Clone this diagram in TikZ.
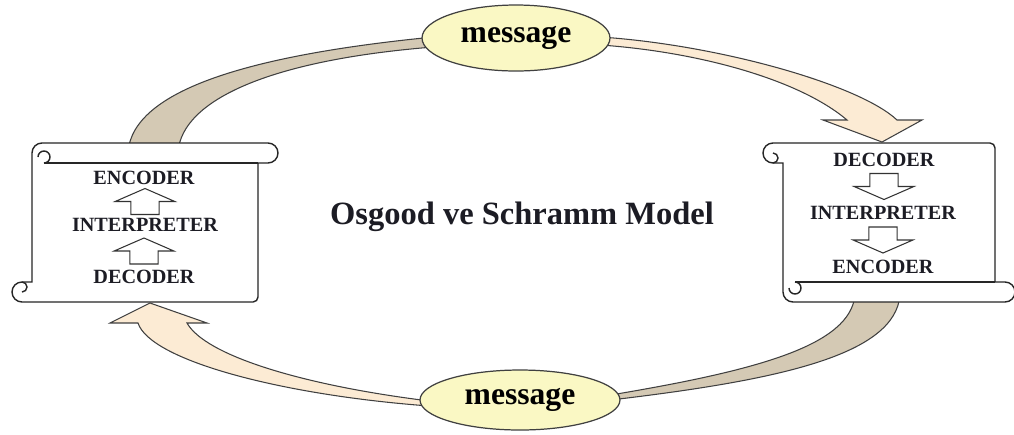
\documentclass[tikz,border=0pt]{standalone}
\usepackage{fontspec}
\setmainfont{Liberation Serif}
\usetikzlibrary{calc,shapes.geometric,backgrounds}

\definecolor{bandtan}{HTML}{D4C9B4}
\definecolor{bandpeach}{HTML}{FCEBD4}
\definecolor{msgfill}{HTML}{FAF8C4}
\definecolor{inkdark}{HTML}{1C1C24}

\tikzset{
    scrollline/.style={draw=black!85, line width=0.8pt, fill=white},
    curlline/.style={draw=black!85, line width=0.8pt},
    band/.style={draw=black!75, line width=0.6pt},
    msg/.style={ellipse, draw=black!75, line width=0.7pt, fill=msgfill,
        inner sep=0pt, font=\fontsize{18}{20}\selectfont\bfseries},
    stage/.style={font=\fontsize{11.5}{13}\selectfont\bfseries, text=inkdark,
        inner sep=1pt},
    hollowarrow/.style={draw=black!80, line width=0.6pt, fill=white},
}

%% scroll: #1 left, #2 top, #3 right, #4 bottom of the body
\newcommand{\scrollbox}[4]{%
    \draw[scrollline] (#1,#2+10) arc[start angle=180,end angle=270,radius=10]
        -- (#3+10,#2) arc[start angle=-90,end angle=90,radius=10]
        -- (#3,#2+20) -- (#3,#4-5) arc[start angle=0,end angle=90,radius=5]
        -- (#1-10,#4) arc[start angle=90,end angle=270,radius=10]
        -- (#1,#4-20) -- cycle;
    \draw[curlline] (#1+12,#2+20) -- (#3,#2+20);
    \draw[curlline] (#1+12,#2+20) arc[start angle=90,end angle=-180,radius=6];
    \draw[curlline] (#1-10,#4-20) arc[start angle=-90,end angle=90,radius=5];
}

%% hollow block arrow between two stage nodes
\newcommand{\blockarrow}[2]{%
    \draw[hollowarrow] let \p1=(#1), \p2=(#2), \n1={((\y2>\y1)*2-1)} in
        ({\x1-8pt},{(\y1+\y2)/2-(\n1)*7.4pt}) -- ({\x1-8pt},{(\y1+\y2)/2})
        -- ({\x1-17pt},{(\y1+\y2)/2}) -- (\x1,{(\y1+\y2)/2+(\n1)*7.4pt})
        -- ({\x1+17pt},{(\y1+\y2)/2}) -- ({\x1+8pt},{(\y1+\y2)/2})
        -- ({\x1+8pt},{(\y1+\y2)/2-(\n1)*7.4pt}) -- cycle;
}

\begin{document}
\begin{tikzpicture}[x=0.02cm,y=-0.02cm]
    \useasboundingbox (0,0) rectangle (1014,434);
    \begin{pgfonlayer}{background}
        \fill[white] (0,0) rectangle (1014,434);
    \end{pgfonlayer}

    %% Messages
    \node[msg, minimum width=3.76cm, minimum height=1.32cm] (msgtop) at (516,38) {message};
    \node[msg, minimum width=4.0cm, minimum height=1.2cm] (msgbot) at (520,400) {message};

    %% Ports on the scrolls
    \coordinate (rsIn) at (882,142);
    \coordinate (lsIn) at (150,303);

    %% Bands
    \begin{pgfonlayer}{background}
        \draw[band, fill=bandtan] (128,152) .. controls (133,90) and (250,55)
            .. ($(msgtop.west)+(12,-1)$) -- ($(msgtop.west)+(12,9)$)
            .. controls (270,60) and (182,100) .. (178,152) -- cycle;
        \draw[band, fill=bandpeach] ($(msgtop.east)+(-10,-1)$)
            .. controls (720,45) and (860,85) .. ($(rsIn)+(15,-22)$)
            -- ($(rsIn)+(40,-22)$) -- (rsIn) -- ($(rsIn)+(-59,-22)$)
            -- ($(rsIn)+(-35,-22)$) .. controls (800,80) and (700,52)
            .. ($(msgtop.east)+(-10,7)$) -- cycle;
        \draw[band, fill=bandtan] (900,295) .. controls (895,355) and (780,380)
            .. ($(msgbot.east)+(-10,0)$) -- ($(msgbot.east)+(-10,-5)$)
            .. controls (760,370) and (850,345) .. (855,295) -- cycle;
        \draw[band, fill=bandpeach] ($(msgbot.west)+(10,1)$)
            .. controls (300,385) and (205,355) .. ($(lsIn)+(37,20)$)
            -- ($(lsIn)+(57,20)$) -- (lsIn) -- ($(lsIn)+(-40,20)$)
            -- ($(lsIn)+(-12,20)$) .. controls (150,360) and (280,395)
            .. ($(msgbot.west)+(10,6)$) -- cycle;
    \end{pgfonlayer}

    %% Scrolls
    \scrollbox{32}{143}{258}{302}
    \begin{scope}[shift={(0,445)},yscale=-1]
        \scrollbox{783}{143}{995}{302}
    \end{scope}

    %% Left scroll
    \node[stage] (lenc) at (144,178) {ENCODER};
    \node[stage] (lint) at (145,225) {INTERPRETER};
    \node[stage] (ldec) at (144,277) {DECODER};
    \blockarrow{ldec}{lint}
    \blockarrow{lint}{lenc}

    %% Right scroll
    \node[stage] (rdec) at (884,160) {DECODER};
    \node[stage] (rint) at (883,213) {INTERPRETER};
    \node[stage] (renc) at (883,267) {ENCODER};
    \blockarrow{rdec}{rint}
    \blockarrow{rint}{renc}

    %% Title
    \node[font=\fontsize{18.5}{22}\selectfont\bfseries, text=inkdark] (title)
        at (522,217) {Osgood ve Schramm Model};
\end{tikzpicture}
\end{document}
